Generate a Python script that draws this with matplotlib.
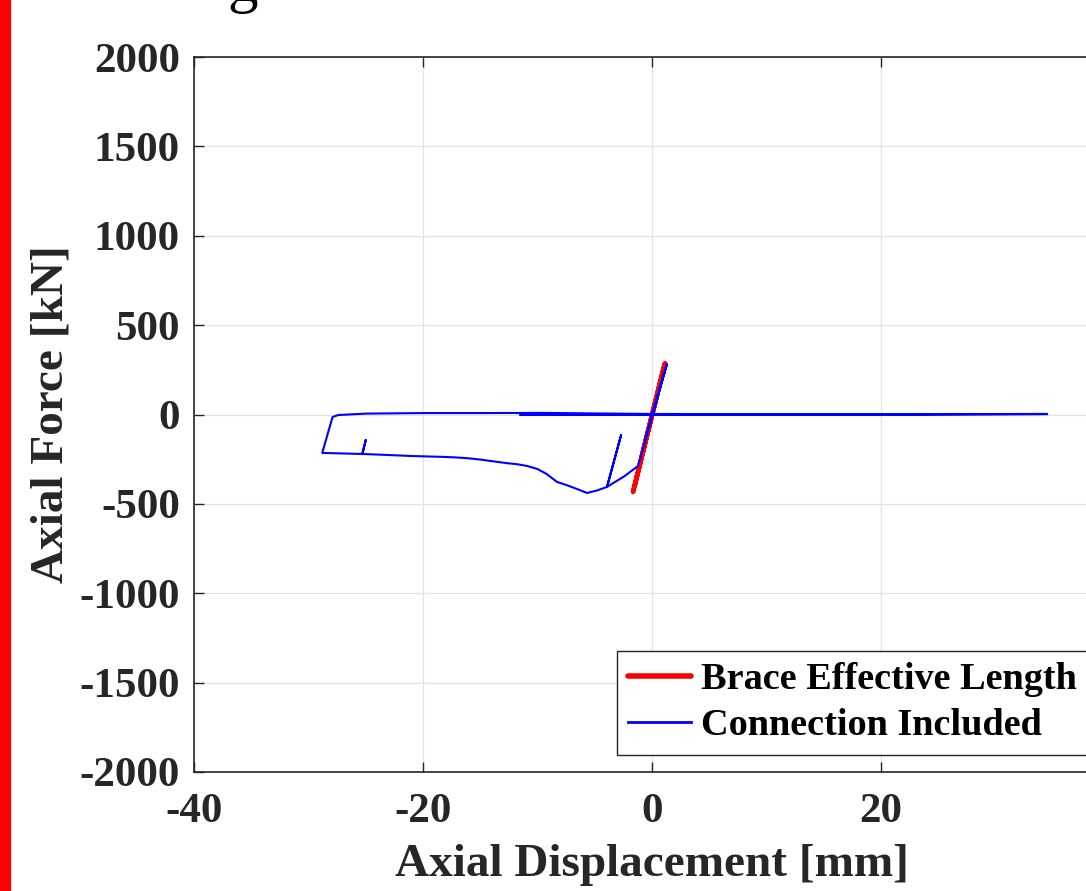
import matplotlib
matplotlib.use("Agg")
import matplotlib.pyplot as plt
from matplotlib.patches import Rectangle

# brace effective length (red) - elastic cycles
brace_disp = [0.0, 1.14, -1.66, 1.10, -1.50, 0.0]
brace_force = [0, 288, -434, 280, -395, 0]

# connection included (blue)
conn_disp = [0.0, 1.30, -0.60, 1.25, -1.22, -2.40, -3.93, -2.70, -3.93, -4.80,
             -5.68, -6.50, -7.50, -8.30, -9.20, -10.0, -10.9, -11.8, -12.7, -14.1,
             -15.0, -16.2, -17.2, -18.3, -19.5, -21.1, -22.5, -24.0, -25.3, -25.0,
             -25.3, -27.0, -28.8, -27.9, -27.4, -25.0, -20.0, -15.0, -9.5, -5.0,
             0.0, 10.0, 20.0, 34.5, 20.0, 0.0, -11.5, 0.0, 20.0, 34.5]
conn_force = [0, 283, -140, 270, -288, -345, -405, -115, -405, -425,
              -439, -418, -394, -377, -333, -305, -288, -278, -272, -260,
              -252, -244, -240, -237, -235, -232, -228, -224, -221, -143,
              -221, -218, -215, -14, -3, 5, 8, 8, 9, 6,
              3, 2, 2, 3, 0, 0, -2, 0, 0, 2]

x_ticks = [-40, -20, 0, 20, 40]
x_tick_labels = ['-40', '-20', '0', '20', '']
y_ticks = [-2000, -1500, -1000, -500, 0, 500, 1000, 1500, 2000]

W, H = 1086, 891
plt.rcParams['font.family'] = ['Liberation Serif', 'DejaVu Serif']
plt.rcParams['font.weight'] = 'bold'
plt.rcParams['axes.unicode_minus'] = False

fig = plt.figure(figsize=(W / 100, H / 100), dpi=100)
fig.patch.set_facecolor('white')

# red strip on left edge
fig.patches.append(Rectangle((0, 0), 10 / W, 1, transform=fig.transFigure,
                             color='red', zorder=5))
# cropped title
fig.text(227 / W, 1 - 1 / H, 'g', fontsize=44, fontweight='normal',
         va='baseline', ha='left', color='black')

ax = fig.add_axes([194 / W, (H - 772) / H, 916 / W, 715 / H])
ax.plot(brace_disp, brace_force, color='red', lw=3.2, label='Brace Effective Length',
        solid_capstyle='round', zorder=3)
ax.plot(conn_disp, conn_force, color='blue', lw=1.5, label='Connection Included', zorder=4)

ax.set_xlim(-40, 40)
ax.set_ylim(-2000, 2000)
ax.set_xticks(x_ticks)
ax.set_xticklabels(x_tick_labels)
ax.set_yticks(y_ticks)
ax.grid(True, color='#e3e3e3', lw=0.9)
ax.set_axisbelow(True)

dark = '#262626'
for s in ax.spines.values():
    s.set_color(dark)
    s.set_linewidth(1.2)
ax.tick_params(direction='in', length=7, width=1.0, colors=dark, top=True, right=True,
               labelsize=31, pad=10)
ax.tick_params(axis='x', pad=15)
for lab in ax.get_xticklabels() + ax.get_yticklabels():
    lab.set_fontweight('bold')

ax.set_xlabel('Axial Displacement [mm]', fontsize=34, fontweight='bold', color=dark)
ax.set_ylabel('Axial Force [kN]', fontsize=34, fontweight='bold', color=dark)
ax.xaxis.set_label_coords(0.5, -0.101)
ax.yaxis.set_label_coords(-0.133, 0.5)

leg = ax.legend(loc='upper left', bbox_to_anchor=(617 / W, 1 - 651 / H),
                bbox_transform=fig.transFigure, borderaxespad=0, fontsize=27.5,
                handlelength=1.65, handletextpad=0.26, borderpad=0.3,
                labelspacing=0.28, fancybox=False, framealpha=1)
leg.get_frame().set_edgecolor(dark)
leg.get_frame().set_linewidth(1.0)
for t in leg.get_texts():
    t.set_fontweight('bold')
    t.set_color('black')
leg.get_lines()[0].set_linewidth(4)
leg.get_lines()[1].set_linewidth(2)

fig.savefig('out.png', dpi=100)
